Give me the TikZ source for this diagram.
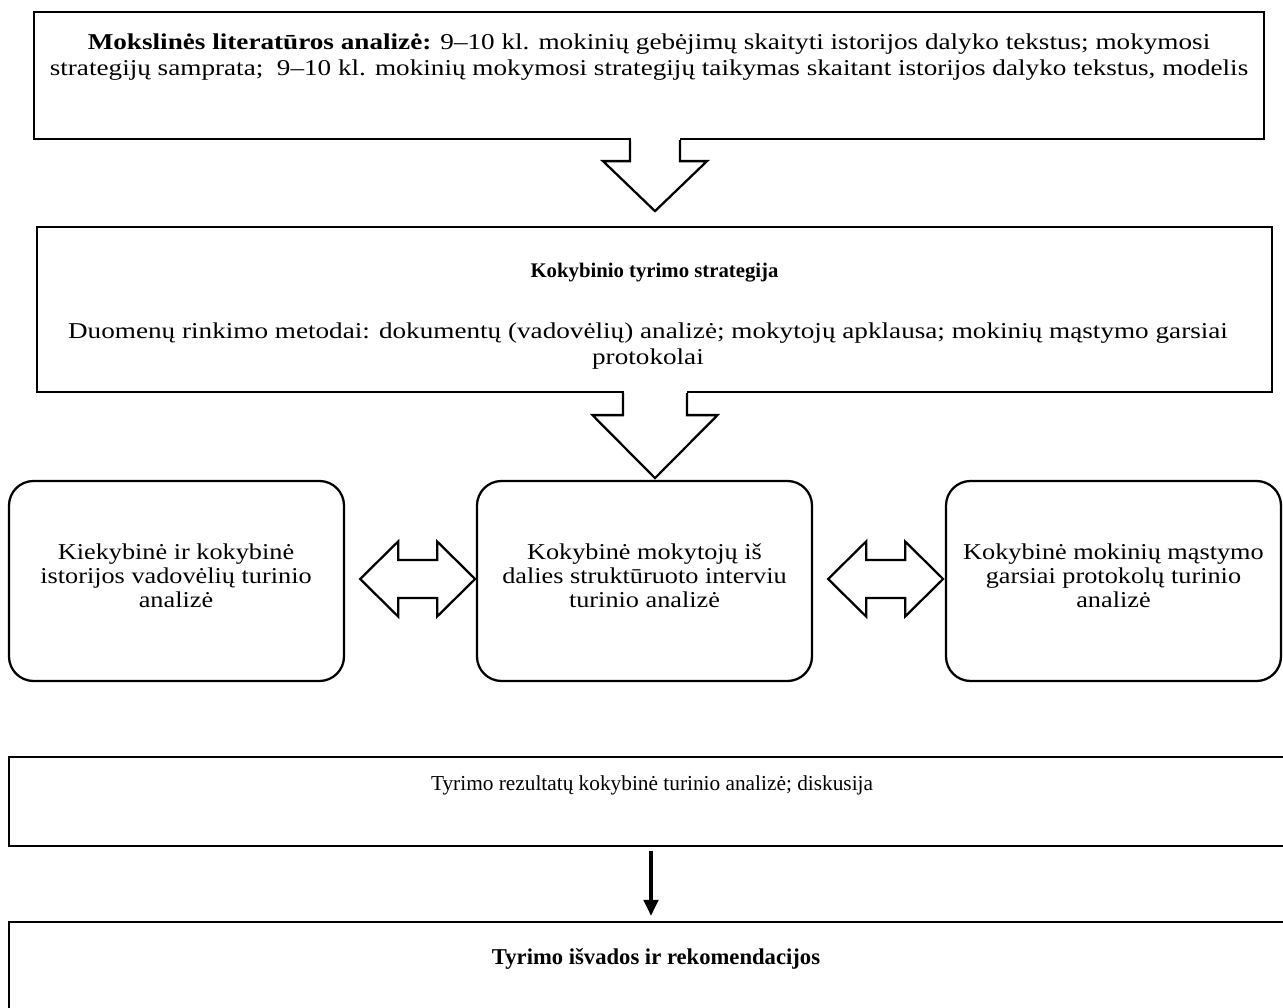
\documentclass[tikz,border=0pt]{standalone}
\usepackage{fontspec}
\setmainfont{Liberation Serif}
\usetikzlibrary{arrows.meta,calc,positioning}
\tikzset{
  box/.style={rectangle,draw,line width=1.2pt,inner sep=0pt},
  rbox/.style={box,rounded corners=13pt,minimum width=335*0.53pt,
    minimum height=200*0.53pt},
  txt/.style={align=center,inner sep=0pt,font=\fontsize{12}{13.8}\selectfont},
  widetxt/.style={txt,font=\fontsize{12}{13.8}\selectfont\addfontfeatures{FakeStretch=1.2}},
  midtxt/.style={txt,font=\fontsize{12}{12.7}\selectfont\addfontfeatures{FakeStretch=1.16}},
  blockarr/.style={draw,fill=white,line width=1.2pt,line join=miter},
  arr/.style={-{Triangle[width=7.5pt,length=8.5pt]},line width=2pt}
}

\begin{document}
\begin{tikzpicture}[x=0.53pt,y=-0.53pt]
  \useasboundingbox (0,0) rectangle (1283,1008);
  % top two boxes
  \node[box,minimum width=1230*0.53pt,minimum height=127*0.53pt] (lit) at (649,75.5) {};
  \node[widetxt] (lit-t) at (649,57) {\textbf{Mokslinės literatūros analizė:} 9–10 kl. mokinių gebėjimų skaityti istorijos dalyko tekstus; mokymosi\\
    strategijų samprata;\ \ 9–10 kl. mokinių mokymosi strategijų taikymas skaitant istorijos dalyko tekstus, modelis};
  \node[box,minimum width=1235*0.53pt,minimum height=165*0.53pt] (strat) at (654.5,309.5) {};
  \node[txt,font=\fontsize{11}{13}\selectfont] (strat-h) at (654.5,273) {\textbf{Kokybinio tyrimo strategija}};
  \node[widetxt] (strat-t) at (648,346) {Duomenų rinkimo metodai: dokumentų (vadovėlių) analizė; mokytojų apklausa; mokinių mąstymo garsiai\\
    protokolai};
  % block arrows down
  \fill[white] ($(lit.south)+(-18.5,-4)$) rectangle ++(49,5);
  \draw[blockarr] ($(lit.south)+(-19,0)$) -- ++(0,21) -- ++(-27,0) -- ++(52,50)
    -- ++(52,-50) -- ++(-27,0) -- ++(0,-21);
  \fill[white] ($(strat.south)+(-30.5,-4)$) rectangle ++(63,5);
  \draw[blockarr] ($(strat.south)+(-31.5,0)$) -- ++(0,22) -- ++(-30.5,0) -- ++(62.5,63)
    -- ++(62.5,-63) -- ++(-30.5,0) -- ++(0,-22);
  % three analyses
  \node[rbox] (vad) at (176.5,581) {};
  \node[rbox] (int) at (644.5,581) {};
  \node[rbox] (prot) at (1113.5,581) {};
  \node[midtxt] (vad-t) at (176,576) {Kiekybinė ir kokybinė\\istorijos vadovėlių turinio\\analizė};
  \node[midtxt] (int-t) at (644.5,576) {Kokybinė mokytojų iš\\dalies struktūruoto interviu\\turinio analizė};
  \node[midtxt] (prot-t) at (1113.5,576) {Kokybinė mokinių mąstymo\\garsiai protokolų turinio\\analizė};
  \foreach \l in {vad,int}{
    \draw[blockarr] ($(\l.east)+(15,-2)$) -- ++(38,-37.5) -- ++(0,18.5) -- ++(39,0)
      -- ++(0,-18.5) -- ++(38,37.5) -- ++(-38,37.5) -- ++(0,-18.5) -- ++(-39,0)
      -- ++(0,18.5) -- cycle;
  }
  % results and conclusions
  \node[box,minimum width=1290*0.53pt,minimum height=89*0.53pt] (rez) at (654,801.5) {};
  \node[txt,font=\fontsize{11.3}{13}\selectfont] (rez-t) at (652,785) {Tyrimo rezultatų kokybinė turinio analizė; diskusija};
  \node[box,minimum width=1290*0.53pt,minimum height=98*0.53pt] (isv) at (654,971) {};
  \node[txt] (isv-t) at (656,959) {\textbf{Tyrimo išvados ir rekomendacijos}};
  \draw[arr,shorten <=2pt,shorten >=2.6pt] ($(rez.south)+(-3,0)$) -- ($(isv.north)+(-3,0)$);
\end{tikzpicture}
\end{document}
